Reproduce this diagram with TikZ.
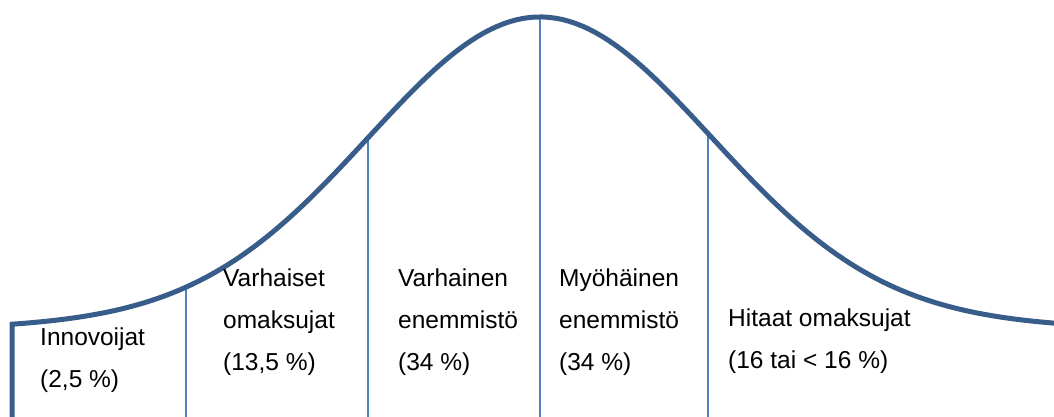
\documentclass[tikz,border=0pt]{standalone}
\usepackage{fontspec}
\setmainfont{Liberation Sans}
\usepackage{xcolor}
\usepackage{tikz}
\usetikzlibrary{
	calc,
	positioning
}

\definecolor{curveblue}{RGB}{56,93,138}
\definecolor{lineblue}{RGB}{79,129,189}

\tikzset{
	curve/.style={line width=5pt, curveblue, line join=miter},
	divider/.style={line width=2pt, lineblue},
	label/.style={anchor=base west, inner sep=0pt, align=left, font=\fontsize{24.5}{42}\selectfont},
	declare function={bell(\t)=333-296*exp(-((\t-540)/170)^2/2)-20*exp(-((\t-540)/350)^2/2);}
}

\begin{document}
\begin{tikzpicture}[x=1pt, y=-1pt]
		\useasboundingbox (0,0) rectangle (1054,417);
		% dividers under the curve
		\foreach \xd in {186,368,540,708}{
			\draw[divider] (\xd,{bell(\xd)}) -- (\xd,417);
		}
		% bell curve
		\draw[curve] (12,417) -- (12,{bell(12)}) -- plot[domain=12:1054, samples=160] (\x,{bell(\x)});
		% labels (anchored on the last line)
		\node[label] (innovators) at (40,387) {Innovoijat\\(2,5 \%)};
		\node[label] (earlyadopters) at (223,370) {Varhaiset\\omaksujat\\(13,5 \%)};
		\node[label] (earlymajority) at (398,370) {Varhainen\\enemmistö\\(34 \%)};
		\node[label] (latemajority) at (559,370) {Myöhäinen\\enemmistö\\(34 \%)};
		\node[label] (laggards) at (728,368) {Hitaat omaksujat\\(16 tai < 16 \%)};
	\end{tikzpicture}
\end{document}
